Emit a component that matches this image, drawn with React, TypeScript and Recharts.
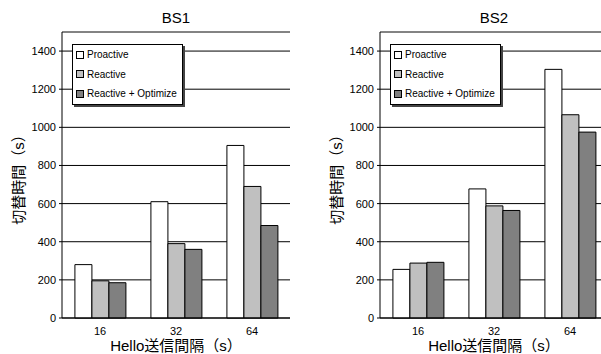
import React from "react";
import {
  BarChart,
  Bar,
  XAxis,
  YAxis,
  CartesianGrid,
  Legend,
  ReferenceLine,
} from "recharts";

const FONT = '"Liberation Sans", Arial, "Noto Sans CJK JP", sans-serif';

const categories = ["16", "32", "64"];
const seriesNames = ["Proactive", "Reactive", "Reactive + Optimize"];
const seriesColors = ["#ffffff", "#c0c0c0", "#808080"];
const yTicks = [0, 200, 400, 600, 800, 1000, 1200, 1400];

const bs1Proactive = [280, 610, 905];
const bs1Reactive = [195, 390, 690];
const bs1Optimize = [185, 360, 485];

const bs2Proactive = [255, 677, 1304];
const bs2Reactive = [288, 588, 1066];
const bs2Optimize = [292, 564, 975];

function buildRows(a: number[], b: number[], c: number[]) {
  return categories.map((cat, i) => ({ cat, s0: a[i], s1: b[i], s2: c[i] }));
}

const bs1Data = buildRows(bs1Proactive, bs1Reactive, bs1Optimize);
const bs2Data = buildRows(bs2Proactive, bs2Reactive, bs2Optimize);

function LegendBox({ payload }: any) {
  return (
    <div
      style={{
        background: "#fff",
        border: "1px solid #000",
        boxShadow: "2px 2px 0 #444",
        padding: "0 5px 0 3px",
        fontFamily: FONT,
        fontSize: 10,
        color: "#000",
      }}
    >
      {(payload || []).map((p: any) => (
        <div
          key={p.value}
          style={{ display: "flex", alignItems: "center", height: 19.5 }}
        >
          <span
            style={{
              width: 6,
              height: 6,
              border: "1px solid #000",
              background: p.color,
              marginRight: 3,
              display: "inline-block",
            }}
          />
          {p.value}
        </div>
      ))}
    </div>
  );
}

function Panel({
  title,
  data,
  left,
  width,
  marginLeft,
  marginRight,
}: {
  title: string;
  data: any[];
  left: number;
  width: number;
  marginLeft: number;
  marginRight: number;
}) {
  const plotLeft = marginLeft + 40;
  const plotWidth = width - plotLeft - marginRight;
  return (
    <div style={{ position: "absolute", left, top: 0, width, height: 354 }}>
      <div
        style={{
          position: "absolute",
          left: plotLeft,
          width: plotWidth,
          top: 9,
          lineHeight: "18px",
          textAlign: "center",
          fontFamily: FONT,
          fontSize: 15,
        }}
      >
        {title}
      </div>
      <div
        style={{
          position: "absolute",
          left: plotLeft - 43 - 60,
          top: 167,
          width: 120,
          lineHeight: "18px",
          textAlign: "center",
          transform: "rotate(-90deg)",
          fontFamily: FONT,
          fontSize: 15,
        }}
      >
        切替時間（s）
      </div>
      <div
        style={{
          position: "absolute",
          left: plotLeft,
          width: plotWidth,
          top: 337,
          lineHeight: "18px",
          textAlign: "center",
          fontFamily: FONT,
          fontSize: 15,
        }}
      >
        Hello送信間隔（s）
      </div>
      <BarChart
        width={width}
        height={354}
        data={data}
        margin={{ top: 32, right: marginRight, bottom: 16, left: marginLeft }}
        barCategoryGap="17%"
        barGap={0}
        style={{ fontFamily: FONT }}
      >
        <CartesianGrid vertical={false} stroke="#000" />
        <XAxis
          dataKey="cat"
          height={20}
          axisLine={{ stroke: "#000" }}
          tickLine={false}
          tickMargin={3}
          tick={{ fontSize: 11, fill: "#000" }}
        />
        <YAxis
          width={40}
          domain={[0, 1500]}
          ticks={yTicks}
          interval={0}
          axisLine={{ stroke: "#000" }}
          tickLine={{ stroke: "#000" }}
          tickSize={3}
          tickMargin={3}
          tick={{ fontSize: 11, fill: "#000" }}
        />
        <YAxis
          yAxisId="border"
          orientation="right"
          width={0}
          domain={[0, 1500]}
          tick={false}
          tickLine={false}
          axisLine={{ stroke: "#888" }}
        />
        <ReferenceLine y={1500} stroke="#888" />
        <Legend
          layout="vertical"
          align="center"
          verticalAlign="middle"
          wrapperStyle={{ left: plotLeft + 10, top: 44, width: "auto" }}
          content={<LegendBox />}
        />
        {seriesNames.map((name, i) => (
          <Bar
            key={name}
            dataKey={`s${i}`}
            name={name}
            fill={seriesColors[i]}
            stroke="#000"
            strokeWidth={1}
            isAnimationActive={false}
          />
        ))}
      </BarChart>
    </div>
  );
}

export default function App() {
  return (
    <div
      style={{
        position: "absolute",
        left: 0,
        top: 0,
        width: 601,
        height: 354,
        overflow: "hidden",
        background: "#fff",
      }}
    >
      <Panel
        title="BS1"
        data={bs1Data}
        left={0}
        width={300}
        marginLeft={22}
        marginRight={10}
      />
      <Panel
        title="BS2"
        data={bs2Data}
        left={300}
        width={320}
        marginLeft={40}
        marginRight={12}
      />
    </div>
  );
}
